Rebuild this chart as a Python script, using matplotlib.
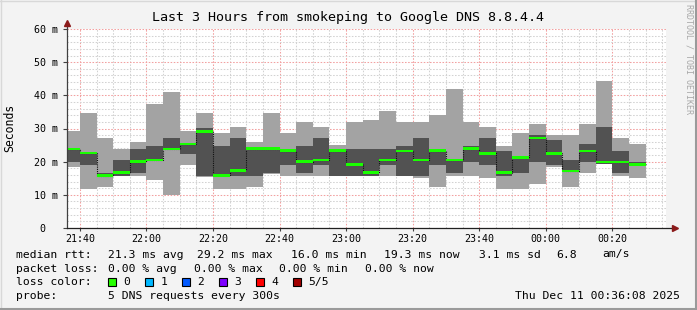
import matplotlib
matplotlib.use("Agg")
import matplotlib.pyplot as plt
from matplotlib.lines import Line2D
from matplotlib.patches import Rectangle
import numpy as np

# ===== DATOS =====
# minutos desde las 21:00, cada barra = 5 minutos
bar_start = np.arange(35, 210, 5)
rtt_min = [18.5, 11.8, 12.5, 15.6, 15.7, 14.5, 10.0, 19.0, 15.4, 11.8, 11.8, 12.5,
           16.3, 15.8, 15.8, 15.7, 15.7, 15.7, 15.7, 15.7, 15.7, 15.2, 12.5, 15.7,
           15.7, 15.2, 11.8, 11.8, 13.3, 18.5, 12.5, 16.7, 19.2, 15.8, 15.2]
rtt_low = [20.0, 19.0, 15.5, 15.8, 16.7, 20.3, 23.6, 22.3, 15.6, 15.9, 15.7, 15.7,
           16.7, 19.0, 16.7, 19.0, 15.7, 15.7, 15.7, 19.0, 15.7, 15.7, 19.0, 16.7,
           20.0, 19.0, 15.7, 16.7, 20.0, 19.0, 16.8, 20.0, 19.2, 16.7, 18.9]
rtt_median = [23.8, 22.6, 15.8, 16.7, 20.0, 20.5, 23.8, 25.3, 29.1, 15.9, 17.4, 23.9,
              23.9, 23.3, 20.0, 20.5, 23.3, 19.2, 16.7, 20.5, 23.2, 20.5, 23.3, 20.5,
              23.9, 22.5, 16.7, 21.3, 27.1, 22.5, 17.2, 23.2, 19.9, 19.9, 19.2]
rtt_high = [23.8, 22.6, 16.7, 20.5, 23.8, 24.8, 27.1, 25.3, 30.3, 24.7, 27.1, 23.9,
            23.9, 23.3, 24.7, 27.1, 23.7, 23.7, 23.7, 23.7, 24.7, 27.1, 23.7, 20.5,
            24.7, 27.1, 23.2, 21.3, 28.0, 26.5, 20.5, 25.3, 30.4, 23.2, 20.0]
rtt_max = [29.2, 34.7, 27.1, 23.8, 25.9, 37.3, 40.9, 29.2, 34.7, 28.6, 30.4, 25.9,
           34.7, 28.6, 31.9, 30.4, 24.9, 31.9, 32.5, 35.2, 31.9, 31.9, 34.0, 41.8,
           31.9, 30.4, 24.7, 28.6, 31.3, 28.0, 28.0, 31.3, 44.2, 27.2, 25.4]

x_ticks = [40, 60, 80, 100, 120, 140, 160, 180, 200]
x_labels = ["21:40", "22:00", "22:20", "22:40", "23:00", "23:20", "23:40", "00:00", "00:20"]
y_ticks = [0, 10, 20, 30, 40, 50, 60]
y_labels = ["0  ", "10 m", "20 m", "30 m", "40 m", "50 m", "60 m"]

loss_names = ["0", "1", "2", "3", "4", "5/5"]
loss_colors = ["#26ff00", "#00b8ff", "#0059ff", "#7e00ff", "#ff0000", "#a10000"]

t_start = 36 + 8 / 60.0
t_end = t_start + 180

W, H = 697, 310
MONO = "DejaVu Sans Mono"


def fx(x):
    return x / W


def fy(y):
    return 1 - y / H


# ===== FIGURA =====
fig = plt.figure(figsize=(W / 100, H / 100), dpi=100)
fig.patch.set_facecolor("#f3f3f3")

ax = fig.add_axes([fx(67), fy(228), 599 / W, 199 / H])
ax.set_facecolor("white")
ax.set_xlim(t_start, t_end)
ax.set_ylim(0, 60)

# rejilla
ax.set_axisbelow(True)
ax.set_xticks(x_ticks)
ax.set_xticks(np.arange(40, 216, 5), minor=True)
ax.set_yticks(y_ticks)
ax.set_yticks(np.arange(0, 61, 2), minor=True)
ax.grid(which="minor", color="#d2d2d2", linestyle=(0, (1.5, 1.5)), linewidth=0.75)
ax.grid(which="major", color="#f2a0a0", linestyle=(0, (1.5, 1.5)), linewidth=0.75)

# humo
lo = np.array(rtt_min)
dlo = np.array(rtt_low)
med = np.array(rtt_median)
dhi = np.array(rtt_high)
hi = np.array(rtt_max)
ax.bar(bar_start, hi - lo, bottom=lo, width=5, align="edge", color="#a3a3a3", linewidth=0, zorder=2)
ax.bar(bar_start, dhi - dlo, bottom=dlo, width=5, align="edge", color="#525252", linewidth=0, zorder=3)

edges = np.append(bar_start, bar_start[-1] + 5)
ax.step(edges, np.append(med, med[-1]), where="post", color="#101010",
        linestyle=(0, (1, 1)), linewidth=0.8, zorder=4)
ax.bar(bar_start, 0.8, bottom=med - 0.4, width=5, align="edge", color="#19ff00", linewidth=0, zorder=5)

# ejes
for s in ax.spines.values():
    s.set_visible(False)
ax.plot([t_start, t_start], [0, 61.8], color="#404040", linewidth=0.9, clip_on=False, zorder=6)
ax.plot([t_start, t_end + 2.6], [0, 0], color="#202020", linewidth=0.9, clip_on=False, zorder=6)
ax.plot([t_start], [61.8], marker="^", markersize=4, color="#8b1a1a", clip_on=False, zorder=7)
ax.plot([t_end + 2.8], [0], marker=">", markersize=4, color="#8b1a1a", clip_on=False, zorder=7)

ax.set_xticklabels(x_labels, fontsize=7.2, family=MONO)
ax.set_yticklabels(y_labels, fontsize=7.2, family=MONO)
ax.tick_params(which="major", axis="y", length=3, width=0.8, color="#404040", pad=3.5)
ax.tick_params(which="major", axis="x", length=2, width=0.8, color="#404040", pad=2.5)
ax.tick_params(which="minor", length=0)

# textos
fig.text(fx(348), fy(18), "Last 3 Hours from smokeping to Google DNS 8.8.4.4",
         ha="center", va="center", fontsize=9.6, family=MONO)
fig.text(fx(10), fy(128), "Seconds", rotation=90, ha="center", va="center", fontsize=8.3, family=MONO)
fig.text(fx(689), fy(4), "RRDTOOL / TOBI OETIKER", rotation=270, ha="center", va="top",
         fontsize=6, family=MONO, color="#a8a8a8")

leg = 8.2
y1, y2, y3, y4 = 254.5, 268.5, 282, 296
fig.text(fx(16), fy(y1), "median rtt:", va="center", fontsize=leg, family=MONO)
for x, s in [(107.6, "21.3 ms avg"), (197, "29.2 ms max"), (291, "16.0 ms min"),
             (384, "19.3 ms now"), (479, "3.1 ms sd"), (556, "6.8"), (602, "am/s")]:
    fig.text(fx(x), fy(y1), s, va="center", fontsize=leg, family=MONO)

fig.text(fx(16), fy(y2), "packet loss:", va="center", fontsize=leg, family=MONO)
for x, s in [(107.6, "0.00 % avg"), (194.2, "0.00 % max"), (279.1, "0.00 % min"), (365.3, "0.00 % now")]:
    fig.text(fx(x), fy(y2), s, va="center", fontsize=leg, family=MONO)

fig.text(fx(16), fy(y3), "loss color:", va="center", fontsize=leg, family=MONO)
for i, (name, col) in enumerate(zip(loss_names, loss_colors)):
    bx = 108.4 + i * 37
    fig.add_artist(Rectangle((fx(bx), fy(y3 + 4)), 8 / W, 8 / H, transform=fig.transFigure,
                             facecolor=col, edgecolor="black", linewidth=0.8))
    fig.text(fx(bx + 15), fy(y3), name, va="center", fontsize=leg, family=MONO)

fig.text(fx(16), fy(y4), "probe:", va="center", fontsize=leg, family=MONO)
fig.text(fx(107.6), fy(y4), "5 DNS requests every 300s", va="center", fontsize=leg, family=MONO)
fig.text(fx(680), fy(y4), "Thu Dec 11 00:36:08 2025", ha="right", va="center", fontsize=leg, family=MONO)

# marco
fig.add_artist(Line2D([0, 1], [fy(0.5), fy(0.5)], color="#d8d8d8", linewidth=1))
fig.add_artist(Line2D([fx(0.5), fx(0.5)], [0, 1], color="#d8d8d8", linewidth=1))
fig.add_artist(Line2D([0, 1], [fy(309), fy(309)], color="#9a9a9a", linewidth=1.5))
fig.add_artist(Line2D([fx(696), fx(696)], [0, 1], color="#9a9a9a", linewidth=1.5))

fig.savefig("out.png", dpi=100, facecolor=fig.get_facecolor())
